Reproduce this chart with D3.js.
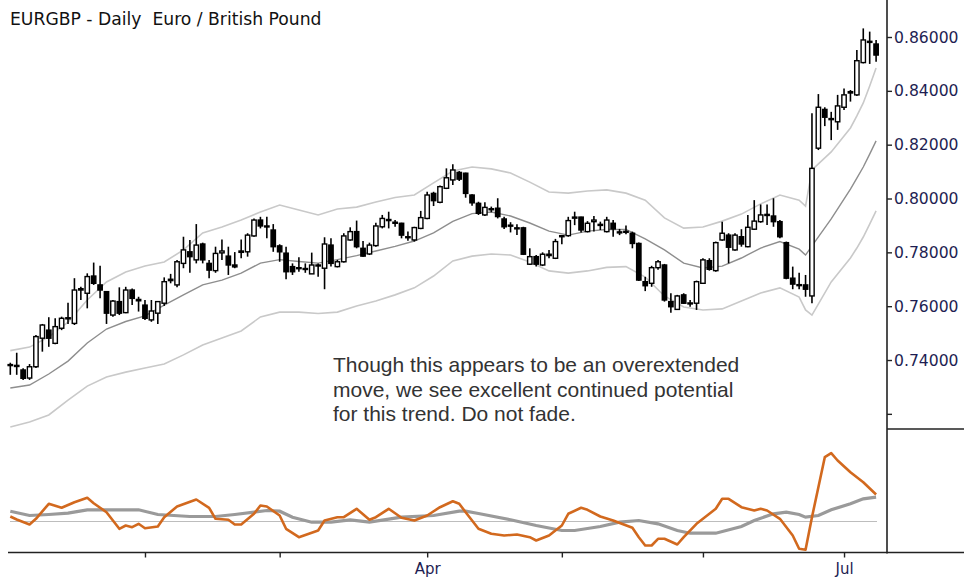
<!DOCTYPE html>
<html>
<head>
<meta charset="utf-8">
<script src="https://cdn.jsdelivr.net/npm/d3@7"></script>
<style>
  body { margin: 0; background: #fff; }
  svg { display: block; }
</style>
</head>
<body>
<div id="chart"></div>
<script>
// daily EURGBP candles, Jan 1 - Jul 8 2016 (one value per trading day)
const open = [
  0.7380,0.7380,0.7363,0.7333,0.7375,0.7481,0.7511,0.7462,0.7518,0.7553,
  0.7536,0.7660,0.7648,0.7712,0.7679,0.7654,0.7567,0.7617,0.7576,0.7660,
  0.7625,0.7604,0.7549,0.7574,0.7611,0.7695,0.7679,0.7759,0.7802,0.7772,
  0.7831,0.7759,0.7732,0.7798,0.7786,0.7753,0.7800,0.7802,0.7861,0.7920,
  0.7898,0.7883,0.7824,0.7797,0.7747,0.7740,0.7737,0.7720,0.7750,0.7741,
  0.7827,0.7747,0.7765,0.7846,0.7877,0.7815,0.7794,0.7825,0.7895,0.7918,
  0.7912,0.7908,0.7855,0.7846,0.7889,0.7926,0.8019,0.7986,0.8038,0.8069,
  0.8097,0.8094,0.8013,0.7982,0.7939,0.7962,0.7964,0.7924,0.7901,0.7891,
  0.7891,0.7756,0.7784,0.7753,0.7788,0.7778,0.7858,0.7862,0.7927,0.7931,
  0.7877,0.7914,0.7904,0.7877,0.7908,0.7876,0.7876,0.7871,0.7833,0.7691,
  0.7685,0.7743,0.7753,0.7617,0.7588,0.7642,0.7610,0.7611,0.7685,0.7769,
  0.7732,0.7846,0.7864,0.7809,0.7858,0.7821,0.7886,0.7914,0.7937,0.7935,
  0.7914,0.7836,0.7704,0.7680,0.7679,0.7638,0.8187,0.8331,0.8297,0.8285,
  0.8339,0.8392,0.8385,0.8505,0.8580,0.8574
];
const high = [
  0.7390,0.7427,0.7369,0.7385,0.7493,0.7534,0.7559,0.7555,0.7561,0.7613,
  0.7704,0.7672,0.7722,0.7762,0.7750,0.7656,0.7623,0.7670,0.7672,0.7666,
  0.7635,0.7623,0.7623,0.7619,0.7707,0.7720,0.7772,0.7858,0.7846,0.7905,
  0.7836,0.7772,0.7821,0.7848,0.7821,0.7801,0.7848,0.7871,0.7926,0.7932,
  0.7932,0.7905,0.7830,0.7821,0.7759,0.7782,0.7759,0.7799,0.7759,0.7856,
  0.7852,0.7772,0.7871,0.7893,0.7918,0.7842,0.7836,0.7910,0.7939,0.7951,
  0.7920,0.7910,0.7877,0.7895,0.7954,0.8025,0.8025,0.8048,0.8112,0.8127,
  0.8102,0.8096,0.8016,0.7988,0.7986,0.7970,0.8001,0.7932,0.7912,0.7904,
  0.7895,0.7815,0.7790,0.7800,0.7809,0.7850,0.7864,0.7932,0.7951,0.7932,
  0.7916,0.7935,0.7914,0.7932,0.7920,0.7887,0.7900,0.7877,0.7837,0.7709,
  0.7750,0.7772,0.7757,0.7648,0.7642,0.7648,0.7623,0.7695,0.7778,0.7778,
  0.7840,0.7914,0.7871,0.7871,0.7886,0.7939,0.7994,0.7978,0.7978,0.8001,
  0.7920,0.7840,0.7747,0.7724,0.7716,0.8317,0.8388,0.8339,0.8322,0.8385,
  0.8409,0.8403,0.8552,0.8632,0.8620,0.8589
];
const low = [
  0.7345,0.7345,0.7326,0.7326,0.7370,0.7431,0.7449,0.7459,0.7511,0.7534,
  0.7530,0.7623,0.7592,0.7679,0.7629,0.7534,0.7561,0.7567,0.7574,0.7604,
  0.7580,0.7549,0.7542,0.7534,0.7601,0.7685,0.7670,0.7741,0.7724,0.7759,
  0.7759,0.7704,0.7724,0.7772,0.7716,0.7741,0.7778,0.7784,0.7858,0.7889,
  0.7852,0.7802,0.7765,0.7700,0.7716,0.7728,0.7724,0.7720,0.7709,0.7663,
  0.7747,0.7744,0.7762,0.7843,0.7815,0.7784,0.7790,0.7821,0.7889,0.7889,
  0.7895,0.7852,0.7843,0.7840,0.7886,0.7923,0.7972,0.7982,0.8035,0.8050,
  0.8065,0.8003,0.7973,0.7939,0.7935,0.7949,0.7926,0.7887,0.7874,0.7864,
  0.7790,0.7753,0.7747,0.7749,0.7778,0.7775,0.7830,0.7858,0.7901,0.7874,
  0.7874,0.7877,0.7883,0.7874,0.7858,0.7864,0.7867,0.7815,0.7694,0.7656,
  0.7672,0.7735,0.7617,0.7576,0.7586,0.7608,0.7598,0.7586,0.7682,0.7732,
  0.7728,0.7843,0.7759,0.7806,0.7821,0.7819,0.7883,0.7910,0.7902,0.7895,
  0.7852,0.7700,0.7663,0.7663,0.7635,0.7611,0.8180,0.8269,0.8217,0.8255,
  0.8329,0.8360,0.8381,0.8502,0.8500,0.8508
];
const close = [
  0.7383,0.7376,0.7332,0.7375,0.7487,0.7530,0.7481,0.7524,0.7555,0.7557,
  0.7660,0.7665,0.7710,0.7685,0.7660,0.7574,0.7619,0.7574,0.7660,0.7629,
  0.7620,0.7555,0.7582,0.7617,0.7691,0.7700,0.7765,0.7809,0.7784,0.7827,
  0.7772,0.7734,0.7796,0.7805,0.7753,0.7746,0.7805,0.7864,0.7920,0.7898,
  0.7895,0.7821,0.7802,0.7728,0.7728,0.7743,0.7740,0.7753,0.7753,0.7831,
  0.7759,0.7765,0.7861,0.7877,0.7821,0.7786,0.7827,0.7898,0.7926,0.7922,
  0.7908,0.7864,0.7858,0.7892,0.7929,0.8013,0.7992,0.8044,0.8077,0.8106,
  0.8072,0.8019,0.7984,0.7945,0.7967,0.7960,0.7933,0.7895,0.7898,0.7889,
  0.7793,0.7784,0.7756,0.7793,0.7793,0.7840,0.7862,0.7918,0.7931,0.7883,
  0.7908,0.7920,0.7900,0.7920,0.7887,0.7874,0.7878,0.7833,0.7697,0.7676,
  0.7743,0.7765,0.7623,0.7598,0.7638,0.7611,0.7612,0.7691,0.7772,0.7737,
  0.7836,0.7871,0.7819,0.7864,0.7831,0.7893,0.7916,0.7939,0.7941,0.7914,
  0.7858,0.7704,0.7682,0.7679,0.7663,0.8112,0.8339,0.8302,0.8293,0.8344,
  0.8385,0.8397,0.8512,0.8589,0.8584,0.8533
];

// envelope lines, read at these bar positions
const bandIdx = [0,3,6,9,12,15,18,21,24,27,30,33,36,39,42,45,48,51,54,57,
  60,63,66,69,72,75,78,81,84,87,90,93,96,99,102,105,108,111,114,117,
  120,123,124,125,128,131,132,133,134,135];
const upperBand = [0.7435,0.7448,0.7486,0.7541,0.7623,0.7690,0.7727,0.7749,0.7764,0.7809,
  0.7872,0.7894,0.7920,0.7950,0.7976,0.7957,0.7939,0.7961,0.7968,0.7987,
  0.8004,0.8013,0.8058,0.8102,0.8117,0.8110,0.8095,0.8061,0.8024,0.8020,
  0.8028,0.8032,0.8020,0.7994,0.7928,0.7890,0.7894,0.7916,0.7942,0.7980,
  0.8013,0.7994,0.7972,0.8106,0.8173,0.8262,0.8307,0.8355,0.8418,0.8485];
const middleBand = [0.7296,0.7307,0.7348,0.7396,0.7463,0.7515,0.7543,0.7564,0.7604,0.7642,
  0.7679,0.7697,0.7723,0.7760,0.7773,0.7766,0.7760,0.7773,0.7788,0.7805,
  0.7822,0.7842,0.7872,0.7915,0.7944,0.7950,0.7935,0.7909,0.7879,0.7864,
  0.7879,0.7885,0.7885,0.7850,0.7809,0.7760,0.7742,0.7749,0.7779,0.7816,
  0.7840,0.7812,0.7790,0.7824,0.7924,0.8035,0.8076,0.8117,0.8165,0.8214];
const lowerBand = [0.7151,0.7170,0.7196,0.7251,0.7303,0.7337,0.7355,0.7370,0.7385,0.7419,
  0.7456,0.7482,0.7508,0.7560,0.7578,0.7578,0.7573,0.7578,0.7601,0.7619,
  0.7642,0.7668,0.7712,0.7768,0.7786,0.7794,0.7790,0.7764,0.7731,0.7723,
  0.7731,0.7744,0.7747,0.7708,0.7638,0.7597,0.7586,0.7590,0.7619,0.7649,
  0.7668,0.7634,0.7586,0.7567,0.7690,0.7779,0.7816,0.7857,0.7905,0.7954];

// lower panel oscillator (fast = orange, slow = grey)
const fastIdx = [0,1,3,4,6,8,10,12,13,15,17,18,19,20,21,23,24,26,29,31,
  32,34,35,36,38,39,40,42,43,45,48,49,51,52,54,56,57,59,61,63,
  65,67,69,70,71,73,75,77,79,81,82,84,86,87,89,90,92,94,97,98,
  99,100,101,102,104,105,107,110,111,112,114,116,117,118,120,122,123,124,125,127,
  128,129,131,133,135];
const fastLine = [0.50,0.20,-0.30,0.27,1.77,1.37,1.93,2.37,1.83,0.93,-0.73,-0.40,-0.57,-0.23,-0.67,-0.50,0.43,1.50,2.20,1.37,
  0.27,0.17,-0.30,-0.30,0.77,1.60,1.50,0.60,-0.73,-1.57,-0.90,0.10,0.43,0.43,1.27,0.17,0.43,1.27,0.37,0.10,
  0.60,1.43,2.03,1.77,0.93,-0.73,-1.23,-1.40,-1.30,-1.57,-1.90,-1.40,-0.40,0.77,1.37,1.17,0.50,0.10,-0.63,-1.57,
  -2.40,-2.40,-1.73,-1.73,-2.30,-1.57,-0.23,1.27,2.27,2.27,1.43,1.10,1.27,1.10,0.27,-1.40,-2.73,-2.83,0.43,6.43,
  6.83,6.10,4.93,3.93,2.70];
const slowIdx = [0,3,6,9,12,16,20,23,28,32,35,40,42,44,47,50,53,56,61,66,
  70,71,73,78,82,86,88,92,95,98,101,104,106,110,114,116,119,121,123,124,
  126,128,131,133,135];
const slowLine = [1.03,0.60,0.70,0.83,1.17,1.17,1.17,0.70,0.50,0.50,0.70,1.10,1.03,0.43,-0.07,-0.07,0.17,-0.07,0.43,0.60,
  1.03,1.03,0.80,0.17,-0.40,-0.90,-0.90,-0.50,-0.07,0.10,-0.23,-0.90,-1.17,-1.17,-0.50,0.10,0.77,0.93,0.70,0.43,
  0.60,1.17,1.77,2.27,2.43];

const priceTicks = [0.72,0.74,0.76,0.78,0.80,0.82,0.84,0.86];
const labelledPriceTicks = [0.74,0.76,0.78,0.80,0.82,0.84,0.86];
const labelledMonths = ['Apr','Jul'];
const title = 'EURGBP - Daily  Euro / British Pound';
const note = ['Though this appears to be an overextended',
  'move, we see excellent continued potential',
  'for this trend. Do not fade.'];

// trading days (weekdays) for the x categories
const days = d3.timeDay.range(new Date(2016,0,1), new Date(2016,6,9))
  .filter(d => d.getDay() !== 0 && d.getDay() !== 6);

const width = 964, height = 584;
const axisX = 887, panelTop = 429, baseY = 552.5;

const svg = d3.select('#chart').append('svg')
  .attr('width', width)
  .attr('height', height);

const x = d3.scalePoint().domain(days).range([10.3, 876.1]);
const bodyW = x.step() * 0.68;
const y = d3.scaleLinear().domain([0.71437, 0.87375]).range([panelTop, 0]);
const yInd = d3.scaleLinear().domain([-3.1, 9.1]).range([baseY, 430.5]);
const xi = i => x(days[i]);

// envelope
const band = d3.line().x(d => xi(d[0])).y(d => y(d[1]));
[[upperBand, '#c9c9c9', 1.6], [lowerBand, '#c9c9c9', 1.6], [middleBand, '#8e8e8e', 1.4]]
  .forEach(([vals, col, w]) => {
    svg.append('path')
      .attr('d', band(bandIdx.map((i, k) => [i, vals[k]])))
      .attr('fill', 'none')
      .attr('stroke', col)
      .attr('stroke-width', w);
  });

// candles
const candles = d3.range(days.length).map(i => ({
  i, o: open[i], h: high[i], l: low[i], c: close[i]
}));
const g = svg.append('g');
g.selectAll('line.wick')
  .data(candles)
  .enter().append('line')
  .attr('class', 'wick')
  .attr('x1', d => xi(d.i)).attr('x2', d => xi(d.i))
  .attr('y1', d => y(d.h)).attr('y2', d => y(d.l))
  .attr('stroke', '#000')
  .attr('stroke-width', 1.6);
g.selectAll('rect.body')
  .data(candles)
  .enter().append('rect')
  .attr('class', 'body')
  .attr('x', d => xi(d.i) - bodyW / 2)
  .attr('width', bodyW)
  .attr('y', d => y(Math.max(d.o, d.c)))
  .attr('height', d => Math.max(1, Math.abs(y(d.o) - y(d.c))))
  .attr('fill', d => d.c >= d.o ? '#fff' : '#000')
  .attr('stroke', '#000')
  .attr('stroke-width', 1.4);

// indicator panel
svg.append('line')
  .attr('x1', 10).attr('x2', 877)
  .attr('y1', yInd(0)).attr('y2', yInd(0))
  .attr('stroke', '#bdbdbd')
  .attr('stroke-width', 1.2);
const ind = d3.line().x(d => xi(d[0])).y(d => yInd(d[1]));
svg.append('path')
  .attr('d', ind(slowIdx.map((i, k) => [i, slowLine[k]])))
  .attr('fill', 'none')
  .attr('stroke', '#9a9a9a')
  .attr('stroke-width', 3.2);
svg.append('path')
  .attr('d', ind(fastIdx.map((i, k) => [i, fastLine[k]])))
  .attr('fill', 'none')
  .attr('stroke', '#d2691e')
  .attr('stroke-width', 2.6)
  .attr('stroke-linejoin', 'round');

// frame lines
svg.append('line')
  .attr('x1', axisX).attr('x2', axisX).attr('y1', 0).attr('y2', baseY + 1)
  .attr('stroke', '#222').attr('stroke-width', 1.6);
svg.append('line')
  .attr('x1', axisX).attr('x2', width).attr('y1', panelTop).attr('y2', panelTop)
  .attr('stroke', '#222').attr('stroke-width', 1.6);
svg.append('line')
  .attr('x1', 8).attr('x2', width).attr('y1', baseY).attr('y2', baseY)
  .attr('stroke', '#222').attr('stroke-width', 1.6);

// price axis
const yAxis = d3.axisRight(y)
  .tickValues(priceTicks)
  .tickSize(5)
  .tickPadding(2)
  .tickFormat(d => labelledPriceTicks.includes(d) ? d3.format('.5f')(d) : '');
const ya = svg.append('g')
  .attr('transform', `translate(${axisX},0)`)
  .call(yAxis);
ya.select('.domain').remove();
ya.selectAll('line').attr('stroke', '#222').attr('stroke-width', 1.4);
ya.selectAll('text')
  .attr('fill', '#1e1e52')
  .style('font-family', '"DejaVu Sans", Verdana, sans-serif')
  .style('font-size', '15.6px');

// month axis
const monthStarts = days.filter((d, k) => k > 0 && d.getMonth() !== days[k - 1].getMonth());
const fmtMonth = d3.timeFormat('%b');
const xAxis = d3.axisBottom(x)
  .tickValues(monthStarts)
  .tickSize(5)
  .tickPadding(6)
  .tickFormat(d => labelledMonths.includes(fmtMonth(d)) ? fmtMonth(d) : '');
const xa = svg.append('g')
  .attr('transform', `translate(0,${baseY})`)
  .call(xAxis);
xa.select('.domain').remove();
xa.selectAll('line').attr('stroke', '#222').attr('stroke-width', 1.4);
xa.selectAll('text')
  .attr('fill', '#1e1e52')
  .style('font-family', '"DejaVu Sans", Verdana, sans-serif')
  .style('font-size', '15px');

// title
svg.append('text')
  .attr('x', 10).attr('y', 25)
  .style('white-space', 'pre')
  .style('font-family', '"DejaVu Sans", Verdana, sans-serif')
  .style('font-size', '17.2px')
  .attr('fill', '#111')
  .text(title);

// annotation
svg.append('g').selectAll('text')
  .data(note)
  .enter().append('text')
  .attr('x', 333)
  .attr('y', (d, k) => 372 + k * 24.5)
  .style('font-family', '"Liberation Sans", Arial, sans-serif')
  .style('font-size', '21px')
  .attr('fill', '#333')
  .text(d => d);
</script>
</body>
</html>
